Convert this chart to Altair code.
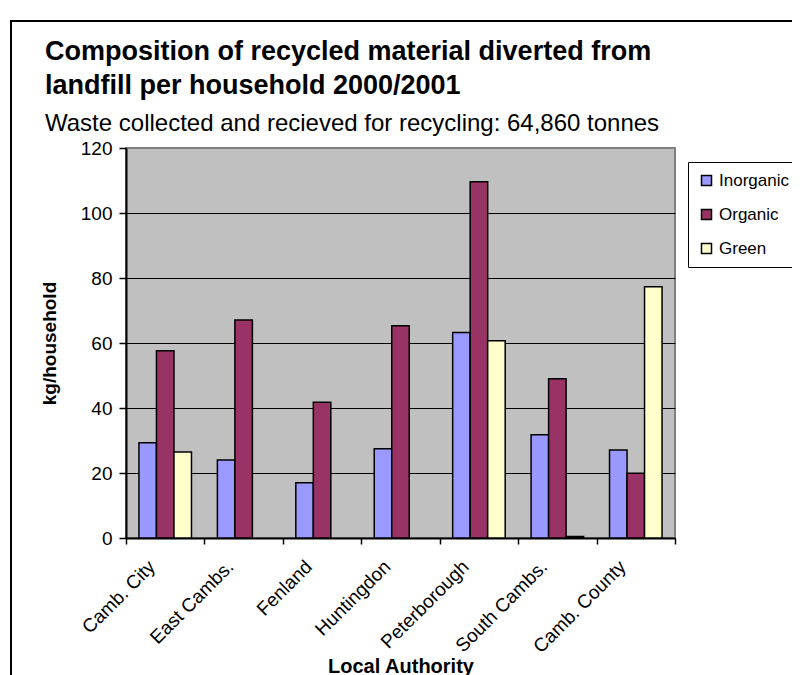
import altair as alt
import pandas as pd

categories = ["Camb. City", "East Cambs.", "Fenland", "Huntingdon",
              "Peterborough", "South Cambs.", "Camb. County"]
series = ["Inorganic", "Organic", "Green"]
inorganic = [29.3, 24.0, 17.0, 27.5, 63.2, 31.8, 27.1]
organic = [57.6, 67.1, 41.8, 65.3, 109.6, 49.0, 19.9]
green = [26.5, None, None, None, 60.7, 0.5, 77.3]
colors = ["#9999FF", "#993366", "#FFFFCC"]
y_ticks = [0, 20, 40, 60, 80, 100, 120]

rows = []
for name, vals in zip(series, [inorganic, organic, green]):
    for cat, v in zip(categories, vals):
        if v is not None:
            rows.append({"authority": cat, "material": name, "kg": v})
df = pd.DataFrame(rows)

FONT = "Liberation Sans"

bars = alt.Chart(df).mark_bar(stroke="black", strokeWidth=1.5).encode(
    x=alt.X("authority:N", sort=categories,
            scale=alt.Scale(paddingInner=0, paddingOuter=0),
            axis=alt.Axis(title="Local Authority", labelAngle=-45,
                          labelAlign="right", labelBaseline="top",
                          labelOffset=-20, labelPadding=13,
                          tickBand="extent", tickSize=6, tickWidth=1.5,
                          tickColor="black", domainColor="black",
                          domainWidth=2, labelFontSize=19,
                          titleFontSize=20, titleY=118)),
    xOffset=alt.XOffset("material:N", sort=series,
                        scale=alt.Scale(paddingInner=0, paddingOuter=0.74)),
    y=alt.Y("kg:Q", scale=alt.Scale(domain=[0, 120], nice=False),
            axis=alt.Axis(title="kg/household", values=y_ticks,
                          tickSize=7, tickWidth=1.5, tickColor="black",
                          domainColor="black", domainWidth=2,
                          labelFontSize=19, labelPadding=7,
                          titleFontSize=19, titlePadding=21,
                          gridColor={"condition": {"test": "datum.value === 120", "value": "#808080"},
                                     "value": "black"},
                          gridWidth=1)),
    color=alt.Color("material:N", sort=series,
                    scale=alt.Scale(domain=series, range=colors),
                    legend=alt.Legend(title=None, orient="none",
                                      legendX=562, legendY=14)),
)

frame = alt.Chart(pd.DataFrame({"a": [0]})).mark_rect(
    fillOpacity=0, stroke="black", strokeWidth=2
).encode(
    x=alt.value(-115), x2=alt.value(690),
    y=alt.value(-127), y2=alt.value(570),
)

chart = alt.layer(frame, bars).properties(
    width=549, height=390,
    autosize=alt.AutoSizeParams(type="none"),
    padding={"left": 118, "top": 140, "right": 117, "bottom": 137},
    background="white",
    title=alt.TitleParams(
        text=["Composition of recycled material diverted from",
              "landfill per household 2000/2001"],
        subtitle="Waste collected and recieved for recycling: 64,860 tonnes",
        anchor="start", frame="group", dx=-81, offset=-117,
        font=FONT, fontSize=27, fontWeight="bold", lineHeight=34,
        color="black", subtitleFont=FONT, subtitleFontSize=24,
        subtitleColor="black", subtitlePadding=12,
    ),
).configure_view(
    fill="#C0C0C0", stroke="#808080", strokeWidth=2
).configure_axis(
    labelFont=FONT, titleFont=FONT, labelColor="black", titleColor="black",
    titleFontWeight="bold",
).configure_legend(
    labelFont=FONT, labelFontSize=17, labelColor="black",
    symbolType="square", symbolSize=100, symbolStrokeColor="black",
    symbolStrokeWidth=1.5, rowPadding=16, labelOffset=4, padding=10,
    strokeColor="black", fillColor="white",
)

chart.save("out.html", embed_options={"renderer": "svg", "actions": False})
